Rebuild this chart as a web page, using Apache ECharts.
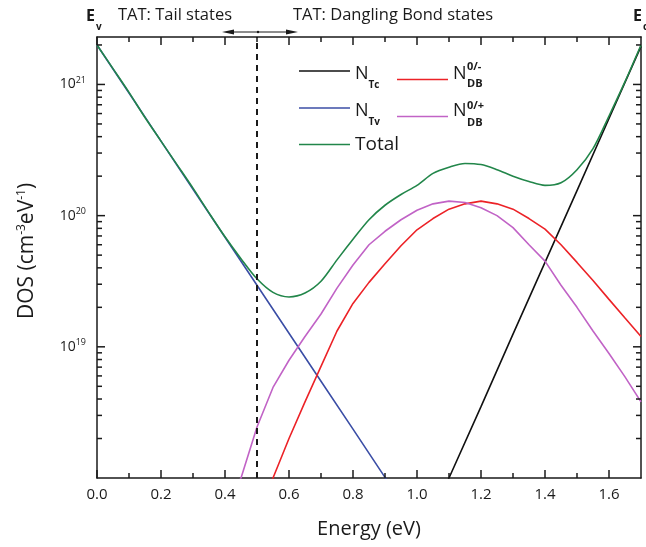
<!DOCTYPE html>
<html>
<head>
<meta charset="utf-8">
<script src="https://cdn.jsdelivr.net/npm/echarts@6/dist/echarts.min.js"></script>
<style>
  html, body { margin: 0; padding: 0; background: #fff; }
  #chart { width: 646px; height: 547px; }
</style>
</head>
<body>
<div id="chart"></div>
<script>
// energy grids (eV) and densities of states (cm^-3 eV^-1)
const energyTv = [0, 0.1, 0.2, 0.3, 0.4, 0.5, 0.6, 0.7, 0.8, 0.9, 1.0];
const nTv = [2.0e21, 8.6e20, 3.7e20, 1.59e20, 6.85e19, 2.95e19, 1.27e19, 5.47e18, 2.36e18, 1.01e18, 4.4e17];

const energyTc = [1.0, 1.1, 1.2, 1.3, 1.4, 1.5, 1.6, 1.7];
const nTc = [2.8e17, 1.0e18, 3.5e18, 1.25e19, 4.4e19, 1.55e20, 5.5e20, 1.95e21];

const energyDB = [0.40, 0.45, 0.50, 0.55, 0.60, 0.65, 0.70, 0.75, 0.80, 0.85, 0.90, 0.95, 1.00, 1.05,
  1.10, 1.15, 1.20, 1.25, 1.30, 1.35, 1.40, 1.45, 1.50, 1.55, 1.60, 1.65, 1.70];
const nDBminus = [1.26e17, 2.5e17, 5.0e17, 1.0e18, 2.0e18, 3.8e18, 7.1e18, 1.32e19, 2.14e19, 3.1e19,
  4.3e19, 5.9e19, 7.8e19, 9.5e19, 1.12e20, 1.23e20, 1.29e20, 1.23e20, 1.12e20, 9.5e19, 7.9e19,
  6.0e19, 4.4e19, 3.2e19, 2.3e19, 1.66e19, 1.2e19];
const nDBplus = [6.3e17, 1.0e18, 2.45e18, 4.9e18, 7.9e18, 1.2e19, 1.78e19, 2.8e19, 4.2e19, 6.0e19,
  7.6e19, 9.3e19, 1.10e20, 1.23e20, 1.29e20, 1.26e20, 1.15e20, 1.0e20, 8.1e19, 6.0e19, 4.5e19,
  2.95e19, 2.0e19, 1.32e19, 8.9e18, 5.9e18, 3.8e18];

const energyTotal = [0, 0.05, 0.10, 0.15, 0.20, 0.25, 0.30, 0.35, 0.40, 0.45, 0.50, 0.55, 0.60, 0.65,
  0.70, 0.75, 0.80, 0.85, 0.90, 0.95, 1.00, 1.05, 1.10, 1.15, 1.20, 1.25, 1.30, 1.35, 1.40, 1.45,
  1.50, 1.55, 1.60, 1.65, 1.70];
const nTotal = [2.0e21, 1.32e21, 8.7e20, 5.6e20, 3.7e20, 2.45e20, 1.62e20, 1.05e20, 6.9e19, 4.7e19,
  3.3e19, 2.6e19, 2.4e19, 2.57e19, 3.16e19, 4.6e19, 6.6e19, 9.3e19, 1.2e20, 1.45e20, 1.7e20,
  2.1e20, 2.34e20, 2.5e20, 2.45e20, 2.24e20, 2.0e20, 1.82e20, 1.7e20, 1.78e20, 2.24e20, 3.24e20,
  5.75e20, 1.05e21, 2.0e21];

// axis ranges and tick positions
const xMin = 0, xMax = 1.7;
const yMin = 1e18, yMax = 2.3e21;
const xMajorTicks = [0, 0.2, 0.4, 0.6, 0.8, 1.0, 1.2, 1.4, 1.6];
const xMinorTicks = [0.1, 0.3, 0.5, 0.7, 0.9, 1.1, 1.3, 1.5];
const yMajorTicks = [1e19, 1e20, 1e21];
const yMinorTicks = [2e18, 3e18, 4e18, 5e18, 6e18, 7e18, 8e18, 9e18,
  2e19, 3e19, 4e19, 5e19, 6e19, 7e19, 8e19, 9e19,
  2e20, 3e20, 4e20, 5e20, 6e20, 7e20, 8e20, 9e20, 2e21];
const yLabelled = [19, 20, 21];   // decades that carry a label
const boundary = 0.5;             // tail / dangling bond split

const FONT = 'Open Sans';
const INK = '#1a1a1a';
const MAJOR = 8, MINOR = 5, TICK_W = 1.5;
const pair = (xs, ys) => xs.map((x, i) => [x, ys[i]]);

const chart = echarts.init(document.getElementById('chart'));

function frame() {
  return {
    axisLine: { show: true, onZero: false, lineStyle: { color: INK, width: 1.5 } },
    axisTick: { show: false },
    minorTick: { show: false },
    splitLine: { show: false }
  };
}

// inward ticks on all four sides, drawn as thin bars placed through the axes
const xTickItems = xMajorTicks.map(v => [v, yMin, MAJOR]).concat(xMinorTicks.map(v => [v, yMin, MINOR]));
const yTickItems = yMajorTicks.map(v => [xMin, v, MAJOR]).concat(yMinorTicks.map(v => [xMin, v, MINOR]));
const bar = (x, y, w, h) => ({ type: 'rect', shape: { x, y, width: w, height: h }, style: { fill: INK } });

function renderXTick(params, api) {
  const it = xTickItems[params.dataIndex];
  const b = api.coord([it[0], yMin]), t = api.coord([it[0], yMax]);
  return {
    type: 'group', children: [
      bar(b[0] - TICK_W / 2, b[1] - it[2], TICK_W, it[2]),
      bar(t[0] - TICK_W / 2, t[1], TICK_W, it[2])
    ]
  };
}
function renderYTick(params, api) {
  const it = yTickItems[params.dataIndex];
  const l = api.coord([xMin, it[1]]), r = api.coord([xMax, it[1]]);
  return {
    type: 'group', children: [
      bar(l[0], l[1] - TICK_W / 2, it[2], TICK_W),
      bar(r[0] - it[2], r[1] - TICK_W / 2, it[2], TICK_W)
    ]
  };
}

const legendRich = {
  n: { fontFamily: FONT, fontSize: 18, color: INK, lineHeight: 20, verticalAlign: 'top', padding: [4, 0, 13, 0] },
  sub: { fontFamily: FONT, fontSize: 10, fontWeight: 'bold', color: INK, lineHeight: 10, verticalAlign: 'top', padding: [19, 0, 0, 0] },
  t: { fontFamily: FONT, fontSize: 19, color: INK, lineHeight: 37 },
  gap: { width: 22, lineHeight: 37 }
};
const legendNames = {
  NTc: '{n|N}{sub|Tc}',
  NTv: '{n|N}{sub|Tv}',
  Total: '{t|Total}',
  NDBm: '{n|N}{gap|}',
  NDBp: '{n|N}{gap|}'
};
function legendAt(left, names) {
  return {
    data: names, left: left, top: 56, orient: 'vertical', icon: 'rect',
    itemWidth: 51, itemHeight: 1.6, itemGap: 2, selectedMode: false,
    formatter: n => legendNames[n], textStyle: { rich: legendRich }
  };
}

const lineSeries = (name, data, color, smooth) => ({
  name, type: 'line', data, symbol: 'none', smooth: smooth || false,
  lineStyle: { color, width: 1.6 }, itemStyle: { color }, clip: true, z: 3
});

const option = {
  backgroundColor: '#fff',
  animation: false,
  grid: { left: 97, right: 5, top: 37, bottom: 69, containLabel: false, outerBoundsMode: 'none' },
  xAxis: [
    Object.assign({
      type: 'value', min: xMin, max: xMax, interval: 0.2, position: 'bottom',
      name: 'Energy (eV)', nameLocation: 'middle', nameGap: 41,
      nameTextStyle: { fontFamily: FONT, fontSize: 20, color: INK },
      axisLabel: {
        fontFamily: FONT, fontSize: 15, color: INK, margin: 9, showMaxLabel: false,
        formatter: v => v > 1.65 ? '' : v.toFixed(1)
      }
    }, frame()),
    Object.assign({
      type: 'value', min: xMin, max: xMax, interval: 0.2, position: 'top',
      axisLabel: { show: false }
    }, frame())
  ],
  yAxis: [
    Object.assign({
      type: 'log', logBase: 10, min: yMin, max: yMax, position: 'left',
      name: '{t|DOS (cm}{s|-3}{t|eV}{s|-1}{t|)}', nameLocation: 'middle', nameGap: 58, nameRotate: 90,
      nameTextStyle: {
        padding: [0, 0, 0, 13],
        rich: {
          t: { fontFamily: FONT, fontSize: 21, color: INK },
          s: { fontFamily: FONT, fontSize: 12, color: INK, verticalAlign: 'top', padding: [0, 0, 11, 0] }
        }
      },
      axisLabel: {
        margin: 11,
        formatter: v => {
          const lg = Math.log10(v), e = Math.round(lg);
          return Math.abs(lg - e) < 0.01 && yLabelled.includes(e) ? '{b|10}{s|' + e + '}' : '';
        },
        rich: {
          b: { fontFamily: FONT, fontSize: 14, color: INK, lineHeight: 18 },
          s: { fontFamily: FONT, fontSize: 9, color: INK, verticalAlign: 'top', padding: [0, 0, 9, 0] }
        }
      }
    }, frame()),
    Object.assign({
      type: 'log', logBase: 10, min: yMin, max: yMax, position: 'right',
      axisLabel: { show: false }
    }, frame())
  ],
  legend: [
    legendAt(294, ['NTc', 'NTv', 'Total']),
    legendAt(392, ['NDBm', 'NDBp'])
  ],
  graphic: [
    // band-edge labels
    { type: 'text', left: 86, top: 8, style: { text: 'E', font: 'bold 16px "Open Sans"', fill: INK } },
    { type: 'text', left: 96, top: 22, style: { text: 'v', font: 'bold 10px "Open Sans"', fill: INK } },
    { type: 'text', left: 633, top: 8, style: { text: 'E', font: 'bold 16px "Open Sans"', fill: INK } },
    { type: 'text', left: 643, top: 22, style: { text: 'c', font: 'bold 10px "Open Sans"', fill: INK } },
    // region labels
    { type: 'text', left: 118, top: 7, style: { text: 'TAT: Tail states', font: '16.5px "Open Sans"', fill: INK } },
    { type: 'text', left: 293, top: 7, style: { text: 'TAT: Dangling Bond states', font: '16.5px "Open Sans"', fill: INK } },
    // double arrow at the boundary
    { type: 'line', shape: { x1: 228, y1: 32, x2: 292, y2: 32 }, style: { stroke: INK, lineWidth: 1 } },
    { type: 'polygon', shape: { points: [[222, 32], [234, 29.5], [234, 34.5]] }, style: { fill: INK } },
    { type: 'polygon', shape: { points: [[298, 32], [286, 29.5], [286, 34.5]] }, style: { fill: INK } },
    { type: 'circle', shape: { cx: 258, cy: 32, r: 1.2 }, style: { fill: INK } },
    // stacked scripts of the dangling bond legend entries
    { type: 'text', left: 467, top: 61, style: { text: '0/-', font: 'bold 11px "Open Sans"', fill: INK } },
    { type: 'text', left: 467, top: 78, style: { text: 'DB', font: 'bold 11px "Open Sans"', fill: INK } },
    { type: 'text', left: 467, top: 100, style: { text: '0/+', font: 'bold 11px "Open Sans"', fill: INK } },
    { type: 'text', left: 467, top: 117, style: { text: 'DB', font: 'bold 11px "Open Sans"', fill: INK } }
  ],
  series: [
    Object.assign(lineSeries('NTc', pair(energyTc, nTc), '#111111'), {
      markLine: {
        silent: true, symbol: 'none', label: { show: false },
        lineStyle: { color: INK, type: [6, 5], width: 2 },
        data: [{ xAxis: boundary }]
      }
    }),
    lineSeries('NTv', pair(energyTv, nTv), '#3b4ea6'),
    lineSeries('Total', pair(energyTotal, nTotal), '#22864a', 0.3),
    lineSeries('NDBm', pair(energyDB, nDBminus), '#ec2227'),
    lineSeries('NDBp', pair(energyDB, nDBplus), '#c163c6'),
    { type: 'custom', name: 'xTicks', silent: true, clip: false, z: 10, data: xTickItems, renderItem: renderXTick },
    { type: 'custom', name: 'yTicks', silent: true, clip: false, z: 10, data: yTickItems, renderItem: renderYTick }
  ]
};

chart.setOption(option);
</script>
</body>
</html>
